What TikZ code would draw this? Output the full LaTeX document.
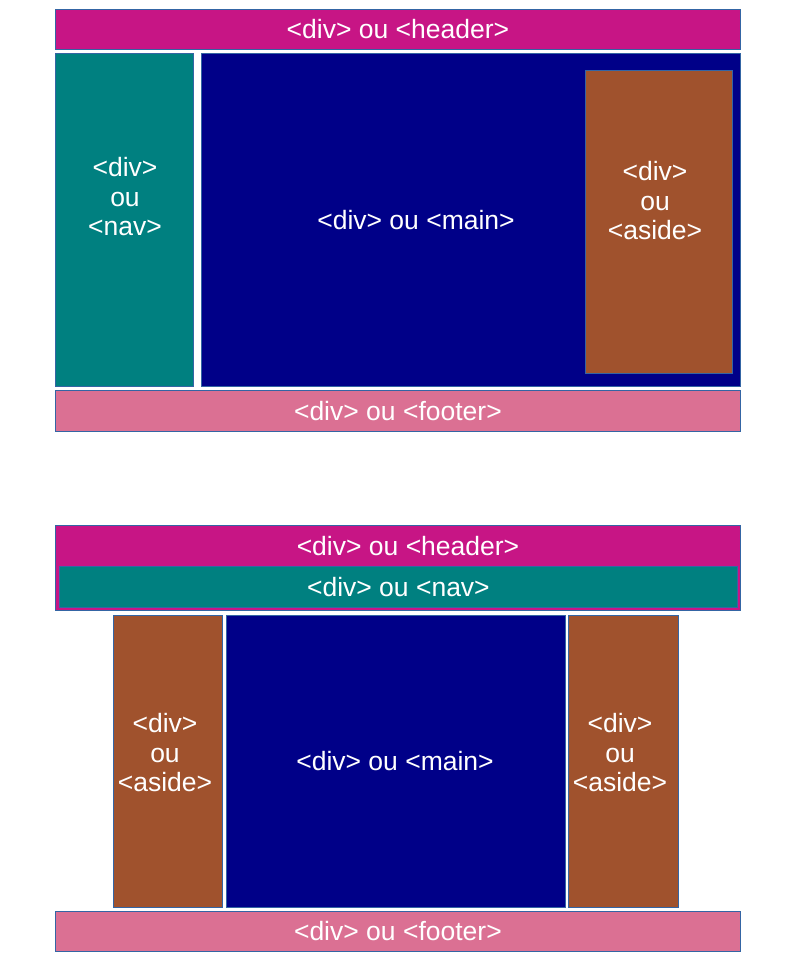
\documentclass[tikz,border=0pt]{standalone}
\usepackage{fontspec}
\setmainfont{Liberation Sans}
\definecolor{hdr}{RGB}{199,21,133}
\definecolor{navc}{RGB}{0,128,128}
\definecolor{mainc}{RGB}{0,0,136}
\definecolor{asidec}{RGB}{160,82,45}
\definecolor{footc}{RGB}{219,112,147}
\definecolor{bord}{RGB}{52,101,164}
\tikzset{
  box/.style={draw=bord,line width=0.8pt,inner sep=0pt,anchor=north west},
  lbl/.style={text=white,align=center,inner sep=0pt,font=\fontsize{26.5}{29.5}\selectfont}
}
\begin{document}
\begin{tikzpicture}[x=1pt,y=-1pt]
   \useasboundingbox (0,0) rectangle (794,960);
   %layout 1
   \node[box,fill=hdr,minimum width=685,minimum height=40] (hd1) at (55,9) {};
   \node[box,fill=navc,minimum width=138,minimum height=333] (nv1) at (55,53) {};
   \node[box,fill=mainc,minimum width=539,minimum height=333] (mn1) at (201,53) {};
   \node[box,fill=asidec,minimum width=147,minimum height=303] (as1) at (585,70) {};
   \node[box,fill=footc,minimum width=685,minimum height=41] (ft1) at (55,390) {};
   %labels 1
   \node[lbl] (thd1) at (hd1.center) {<div> ou <header>};
   \node[lbl] (tnv1) at (125,197) {<div>\\ou\\<nav>};
   \node[lbl] (tmn1) at (416,220) {<div> ou <main>};
   \node[lbl] (tas1) at (655,201) {<div>\\ou\\<aside>};
   \node[lbl] (tft1) at (ft1.center) {<div> ou <footer>};
   %layout 2
   \node[box,fill=hdr,minimum width=685,minimum height=85] (hd2) at (55,525) {};
   \node[box,fill=navc,minimum width=678,minimum height=41] (nv2) at (59,566) {};
   \node[box,fill=asidec,minimum width=109,minimum height=292] (asl2) at (113,615) {};
   \node[box,fill=mainc,minimum width=339,minimum height=292] (mn2) at (226,615) {};
   \node[box,fill=asidec,minimum width=110,minimum height=292] (asr2) at (568,615) {};
   \node[box,fill=footc,minimum width=685,minimum height=40] (ft2) at (55,911) {};
   %labels 2
   \node[lbl] (thd2) at (408,546) {<div> ou <header>};
   \node[lbl] (tnv2) at (nv2.center) {<div> ou <nav>};
   \node[lbl] (tasl2) at (165,753) {<div>\\ou\\<aside>};
   \node[lbl] (tmn2) at (395,761) {<div> ou <main>};
   \node[lbl] (tasr2) at (620,753) {<div>\\ou\\<aside>};
   \node[lbl] (tft2) at (ft2.center) {<div> ou <footer>};
\end{tikzpicture}
\end{document}
